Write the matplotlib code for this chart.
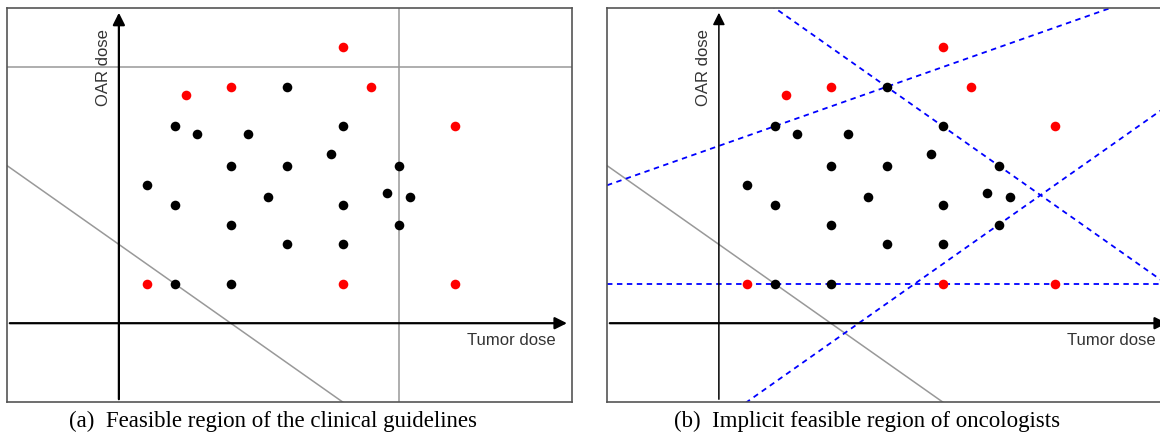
import matplotlib.pyplot as plt
import numpy as np

# plan points (tumor dose, OAR dose)
black_x = [3, 1, 1.4, 2.3, 4, 3.8, 2, 3, 5, 0.5, 1, 2.67, 4, 4.8, 5.2, 2, 5, 3, 4, 1, 2]
black_y = [6, 5, 4.8, 4.8, 5, 4.3, 4, 4, 4, 3.5, 3, 3.2, 3, 3.3, 3.2, 2.5, 2.5, 2, 2, 1, 1]
red_x = [4, 1.2, 2, 4.5, 6, 0.5, 4, 6]
red_y = [7, 5.8, 6, 6, 5, 1, 1, 1]

# guideline constraints (gray)
oar_max = 6.5
tumor_max = 5
diag_c = 2        # y = diag_c - x

# implicit constraints (blue dashed): y = slope*x + icpt
blue_lines = [(0, 1), (0.5, 4.5), (-1, 9), (1, -2.5)]

captions = ["(a)  Feasible region of the clinical guidelines",
            "(b)  Implicit feasible region of oncologists"]

xlim = (-2, 8.1)
ylim = (-2, 8)

fig = plt.figure(figsize=(11.6, 4.42), dpi=100)
ax1 = fig.add_axes([7/1160, 40/442, 565/1160, 394/442])
ax2 = fig.add_axes([607/1160, 40/442, 565/1160, 394/442])


def base(ax, ylw):
    ax.set_xlim(*xlim)
    ax.set_ylim(*ylim)
    ax.set_xticks([])
    ax.set_yticks([])
    for s in ax.spines.values():
        s.set_color('#555555')
        s.set_linewidth(1.2)
    xx = np.array(xlim)
    ax.plot(xx, diag_c - xx, color='#999999', lw=1.1, zorder=1)
    ax.annotate('', xy=(8.06, 0), xytext=(-2, 0),
                arrowprops=dict(arrowstyle='-|>', color='black', lw=1.6,
                                mutation_scale=18), zorder=3)
    ax.annotate('', xy=(0, 7.95), xytext=(0, -2),
                arrowprops=dict(arrowstyle='-|>', color='black', lw=ylw,
                                mutation_scale=18), zorder=3)
    ax.text(7.8, -0.43, 'Tumor dose', ha='right', va='center', fontsize=12,
            color='#333333', family='Liberation Sans')
    ax.text(-0.28, 6.5, 'OAR dose', ha='center', va='center', fontsize=12,
            color='#333333', family='Liberation Sans', rotation=90)
    ax.scatter(black_x, black_y, s=48, color='black', zorder=5, linewidths=0)
    ax.scatter(red_x, red_y, s=48, color='#ff0000', zorder=5, linewidths=0)


base(ax1, 1.6)
ax1.axhline(oar_max, color='#999999', lw=1.1, zorder=1)
ax1.axvline(tumor_max, color='#999999', lw=1.1, zorder=1)

base(ax2, 1.1)
xx = np.array(xlim)
for slope, icpt in blue_lines:
    ax2.plot(xx, slope * xx + icpt, color='blue', lw=1.3, ls=(0, (3, 2.5)), zorder=2)

fig.text(273/1160, 1 - 421/442, captions[0], ha='center', va='center',
         fontsize=16.5, family='Liberation Serif')
fig.text(867/1160, 1 - 421/442, captions[1], ha='center', va='center',
         fontsize=16.5, family='Liberation Serif')

plt.savefig('out.png', dpi=100)
